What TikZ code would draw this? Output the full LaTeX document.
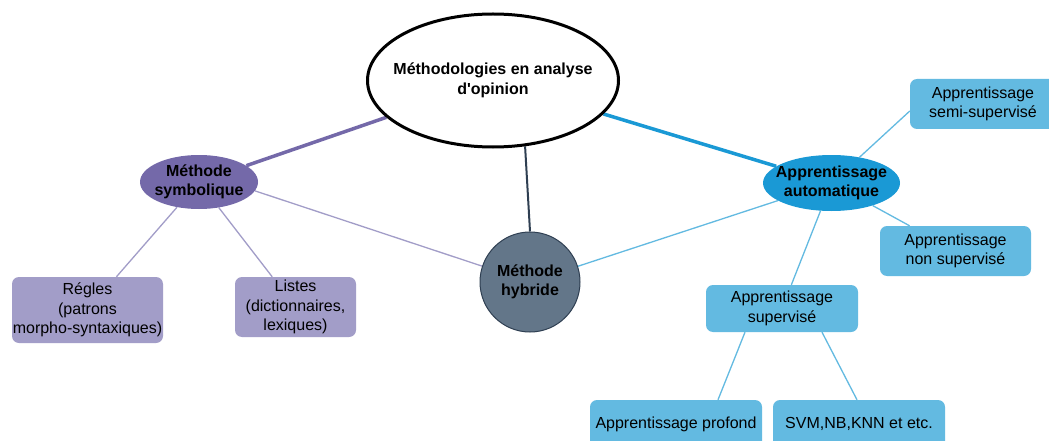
\documentclass[tikz,border=0pt]{standalone}
\usepackage{fontspec}
\setmainfont{Liberation Sans}[Ligatures=TeXOff]
\usetikzlibrary{backgrounds,shapes.geometric}

\definecolor{symfill}{HTML}{7469A9}
\definecolor{symleaf}{HTML}{A29DC8}
\definecolor{hybfill}{HTML}{637689}
\definecolor{hybdraw}{HTML}{2F3F52}
\definecolor{autofill}{HTML}{1A99D5}
\definecolor{autoleaf}{HTML}{63BAE1}

\tikzset{
  txt/.style={font=\fontsize{16}{19.5}\selectfont, align=center, inner sep=0pt, text=black},
  hub/.style={txt, font=\fontsize{16}{19.5}\selectfont\bfseries},
  % ellipse size is set by minimum width/height, not by the text box
  oval/.style={hub, shape=ellipse, inner sep=-14pt},
  leafbox/.style={txt, rectangle, rounded corners=7pt},
  symbox/.style={leafbox, fill=symleaf},
  autobox/.style={leafbox, fill=autoleaf},
  thickline/.style={line width=3.5pt},
  thinline/.style={line width=1.3pt},
}

\begin{document}
\begin{tikzpicture}[x=1pt, y=-1pt]
\clip (0,0) rectangle (1049,441);

% central topic
\node[oval, draw=black, line width=3pt, fill=white,
      minimum width=251pt, minimum height=133pt] (main) at (493,80.5)
  {Méthodologies en analyse\\d'opinion};

% three families of methods
\node[oval, fill=symfill, minimum width=118pt, minimum height=54pt]
  (sym) at (199,182) {Méthode\\symbolique};
\node[hub, shape=circle, fill=hybfill, draw=hybdraw, line width=1pt,
      minimum size=100pt] (hyb) at (530,282) {Méthode\\hybride};
\node[oval, fill=autofill, minimum width=137pt, minimum height=56pt]
  (auto) at (831.5,183) {Apprentissage\\automatique};

% symbolic leaves
\node[symbox, minimum width=151pt, minimum height=66pt] (regles) at (87.5,310)
  {Régles\\(patrons\\morpho-syntaxiques)};
\node[symbox, minimum width=121pt, minimum height=60pt] (listes) at (295.5,307)
  {Listes\\(dictionnaires,\\lexiques)};

% machine-learning leaves
\node[autobox, minimum width=146pt, minimum height=50pt] (semi) at (983,104)
  {Apprentissage\\semi-supervisé};
\node[autobox, minimum width=151pt, minimum height=50pt] (nonsup) at (955.5,251)
  {Apprentissage\\non supervisé};
\node[autobox, minimum width=152pt, minimum height=47pt] (sup) at (782,308.5)
  {Apprentissage\\supervisé};
\node[autobox, minimum width=172pt, minimum height=48pt] (prof) at (676,424)
  {Apprentissage profond};
\node[autobox, minimum width=172pt, minimum height=48pt] (svm) at (859,424)
  {SVM,NB,KNN et etc.};

% connectors, kept behind the nodes
\begin{scope}[on background layer]
  \fill[white] (0,0) rectangle (1049,441);
  \draw[thickline, symfill] (main) -- (sym);
  \draw[thickline, autofill] (main) -- (auto);
  \draw[line width=2pt, hybdraw] (main.-64) -- (hyb.north);
  \draw[thinline, symleaf] (sym.-9) -- (hyb);
  \draw[thinline, autoleaf] (hyb) -- (auto);
  \draw[thinline, symleaf] (sym) -- (regles);
  \draw[thinline, symleaf] (sym) -- (listes);
  \draw[thinline, autoleaf] (auto) -- ([yshift=-7pt]semi.west);
  \draw[thinline, autoleaf] (auto) -- (nonsup);
  \draw[thinline, autoleaf] (auto) -- (sup);
  \draw[thinline, autoleaf] ([xshift=-37pt]sup.south) -- ([xshift=42pt]prof.north);
  \draw[thinline, autoleaf] ([xshift=40pt]sup.south) -- ([xshift=-2pt]svm.north);
\end{scope}
\end{tikzpicture}
\end{document}
